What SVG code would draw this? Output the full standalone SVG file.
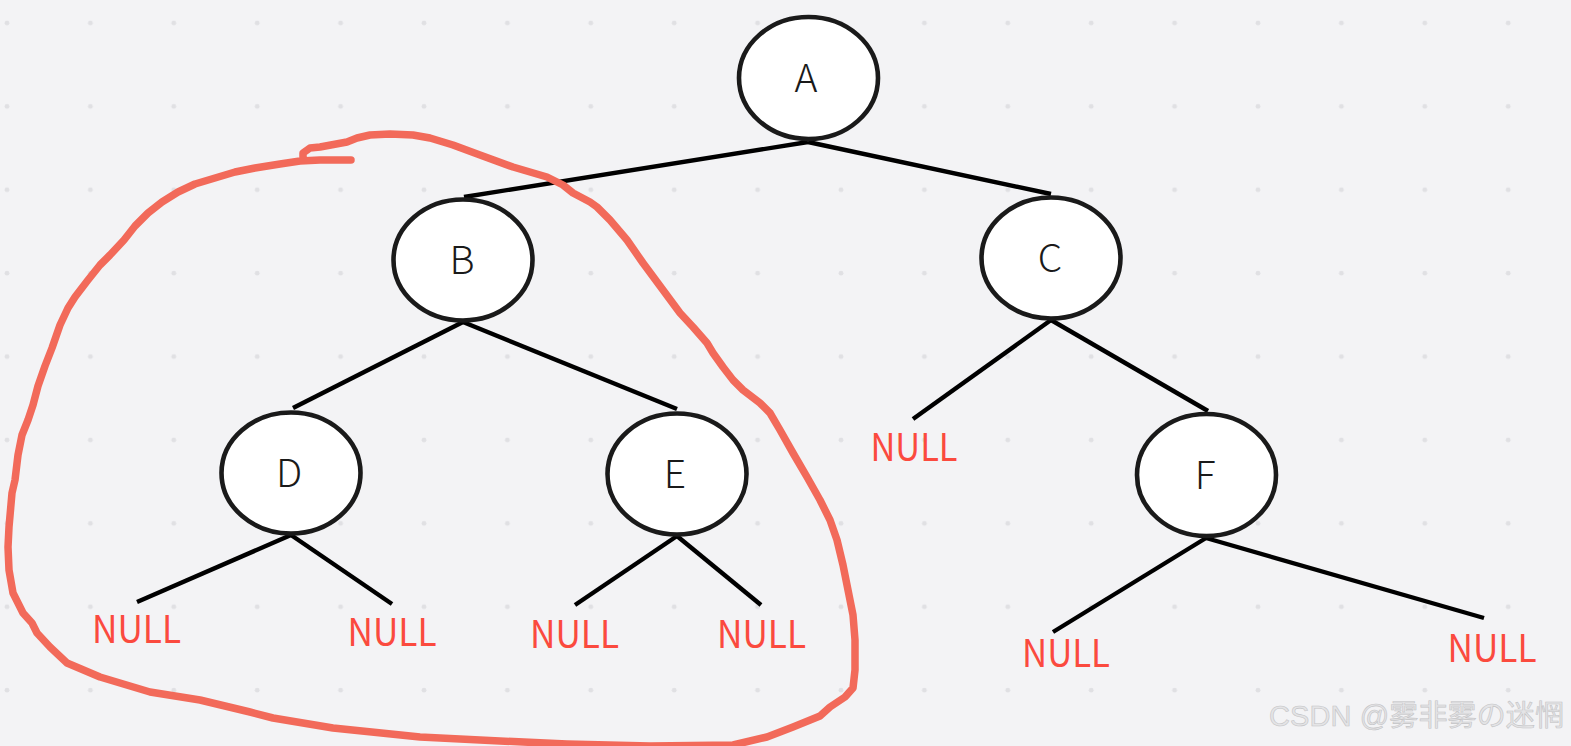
<svg xmlns="http://www.w3.org/2000/svg" width="1571" height="746" viewBox="0 0 1571 746">
<defs>
<pattern id="dots" patternUnits="userSpaceOnUse" x="0" y="0" width="83.4" height="83.4">
<circle cx="7" cy="23" r="2.4" fill="#e0e0e3"/>
</pattern>
<style>
.node ellipse{fill:#ffffff;stroke:#1a1a1a;stroke-width:4.6}
.node text{font-family:"Noto Sans CJK SC","Noto Sans",sans-serif;font-size:39px;font-weight:300;fill:#1a1a1a;text-anchor:middle}
.edge{stroke:#000;stroke-width:4.4;fill:none}
.null{font-family:"Noto Sans CJK SC","Noto Sans",sans-serif;font-size:38.5px;font-weight:400;fill:#fb4a3e;text-anchor:middle}
.mark{fill:none;stroke:#f26a5a;stroke-width:7.5;stroke-linecap:round;stroke-linejoin:round}
.wm{font-family:"Liberation Sans","Noto Sans CJK SC",sans-serif;font-size:29px;fill:#e4e4e6;stroke:#c4c4c6;stroke-width:0.6}
</style>
</defs>
<rect width="1571" height="746" fill="#f3f3f5"/>
<rect width="1571" height="746" fill="url(#dots)"/>

<g id="connectors">
<line class="edge" x1="808" y1="142" x2="464" y2="197"/>
<line class="edge" x1="808" y1="142" x2="1051" y2="194"/>
<line class="edge" x1="463" y1="322" x2="293" y2="408"/>
<line class="edge" x1="463" y1="322" x2="677" y2="409"/>
<line class="edge" x1="1051" y1="320" x2="913" y2="419"/>
<line class="edge" x1="1051" y1="320" x2="1208" y2="411"/>
<line class="edge" x1="291" y1="535" x2="137" y2="602"/>
<line class="edge" x1="291" y1="535" x2="392" y2="604"/>
<line class="edge" x1="677" y1="536" x2="575" y2="605"/>
<line class="edge" x1="677" y1="536" x2="761" y2="605"/>
<line class="edge" x1="1206" y1="538" x2="1053" y2="632"/>
<line class="edge" x1="1206" y1="538" x2="1484" y2="618"/>
</g>

<g id="node-A" class="node"><ellipse cx="808.5" cy="78" rx="69.5" ry="61"/><text x="806" y="92">A</text></g>
<g id="node-B" class="node"><ellipse cx="463" cy="260" rx="69.5" ry="60.5"/><text x="462" y="274">B</text></g>
<g id="node-C" class="node"><ellipse cx="1051" cy="258" rx="69.5" ry="60.5"/><text x="1050" y="272">C</text></g>
<g id="node-D" class="node"><ellipse cx="291" cy="473" rx="69.5" ry="60.5"/><text x="289" y="487">D</text></g>
<g id="node-E" class="node"><ellipse cx="677" cy="474" rx="69.5" ry="60.5"/><text x="675" y="488">E</text></g>
<g id="node-F" class="node"><ellipse cx="1206.5" cy="475" rx="69.5" ry="61"/><text x="1205" y="489">F</text></g>

<g id="null-labels">
<text class="null" x="136.5" y="643" textLength="89" lengthAdjust="spacingAndGlyphs">NULL</text>
<text class="null" x="392" y="646" textLength="89" lengthAdjust="spacingAndGlyphs">NULL</text>
<text class="null" x="574.5" y="648" textLength="89" lengthAdjust="spacingAndGlyphs">NULL</text>
<text class="null" x="761.5" y="648" textLength="89" lengthAdjust="spacingAndGlyphs">NULL</text>
<text class="null" x="914" y="461" textLength="87" lengthAdjust="spacingAndGlyphs">NULL</text>
<text class="null" x="1066" y="667" textLength="88" lengthAdjust="spacingAndGlyphs">NULL</text>
<text class="null" x="1492" y="662" textLength="89" lengthAdjust="spacingAndGlyphs">NULL</text>
</g>

<path class="mark" d="M351,160 L320,160 L300,161 L280,164 L255,168 L235,172 L215,178 L195,184 L178,192 L162,202 L148,213 L135,226 L124,240 L110,255 L100,265 L88,280 L75,297 L68,308 L60,325 L52,348 L45,366 L38,386 L33,405 L28,420 L22,435 L18,455 L15,480 L12,493 L9,527 L8,547 L9,570 L13,593 L23,613 L32,623 L37,633 L50,647 L67,663 L100,677 L150,692 L200,700 L250,712 L273,718 L333,728 L420,737 L500,741 L567,744 L650,746 L733,745 L767,737 L793,727 L820,716 L830,707 L845,697 L853,688 L855,670 L855,640 L853,615 L849,595 L843,565 L837,540 L830,520 L820,500 L807,477 L793,453 L780,430 L770,413 L760,403 L743,390 L733,380 L723,367 L713,353 L707,343 L693,327 L680,313 L663,290 L643,263 L627,240 L610,220 L597,207 L590,202 L573,193 L563,185 L547,177 L513,167 L480,155 L453,145 L430,138 L413,135 L390,134 L370,135 L357,138 L347,142 L320,147 L310,148 L303,153 L303,157"/>

<text class="wm" x="1269" y="726" textLength="295">CSDN @雾非雾の迷惘</text>
</svg>
